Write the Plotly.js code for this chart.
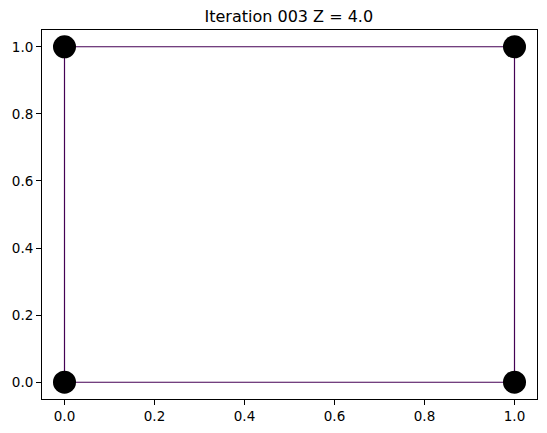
<!DOCTYPE html>
<html><head><meta charset="utf-8">
<script src="https://cdn.plot.ly/plotly-3.0.1.min.js"></script>
<style>html,body{margin:0;padding:0;background:#fff;}#plot{width:547px;height:433px;}</style>
</head><body><div id="plot"></div>
<script>
// Edges of the square (each edge: x pair, y pair)
var edgeX = [[0, 1], [1, 1], [1, 0], [0, 0]];
var edgeY = [[0, 0], [0, 1], [1, 1], [1, 0]];
// Nodes
var nodeX = [0, 1, 1, 0];
var nodeY = [0, 0, 1, 1];
var tickVals = [0, 0.2, 0.4, 0.6, 0.8, 1.0];
var tickText = ["0.0", "0.2", "0.4", "0.6", "0.8", "1.0"];
var titleText = "Iteration 003 Z = 4.0";

var traces = [];
for (var i = 0; i < edgeX.length; i++) {
  traces.push({x: edgeX[i], y: edgeY[i], mode: 'lines', type: 'scatter',
    line: {color: '#440154', width: 1.2}, hoverinfo: 'skip', showlegend: false});
}
traces.push({x: nodeX, y: nodeY, mode: 'markers', type: 'scatter',
  marker: {color: '#000000', size: 23, line: {width: 0}}, showlegend: false});

var axisCommon = {
  range: [-0.05, 1.05], tickvals: tickVals, ticktext: tickText,
  ticks: 'outside', ticklen: 5, tickwidth: 1, tickcolor: '#000',
  showgrid: false, zeroline: false, showline: true, linecolor: '#000', linewidth: 1,
  mirror: true, tickfont: {family: 'DejaVu Sans', size: 13.5, color: '#000'}
};
var layout = {
  width: 547, height: 433,
  margin: {l: 42, r: 10, t: 30, b: 34},
  paper_bgcolor: '#fff', plot_bgcolor: '#fff',
  title: {text: titleText, x: 0.528, xanchor: 'center', y: 0.963, yanchor: 'middle',
    font: {family: 'DejaVu Sans', size: 16, color: '#000'}},
  xaxis: Object.assign({}, axisCommon),
  yaxis: Object.assign({}, axisCommon),
  showlegend: false
};
Plotly.newPlot('plot', traces, layout, {displayModeBar: false, staticPlot: true});
</script></body></html>
